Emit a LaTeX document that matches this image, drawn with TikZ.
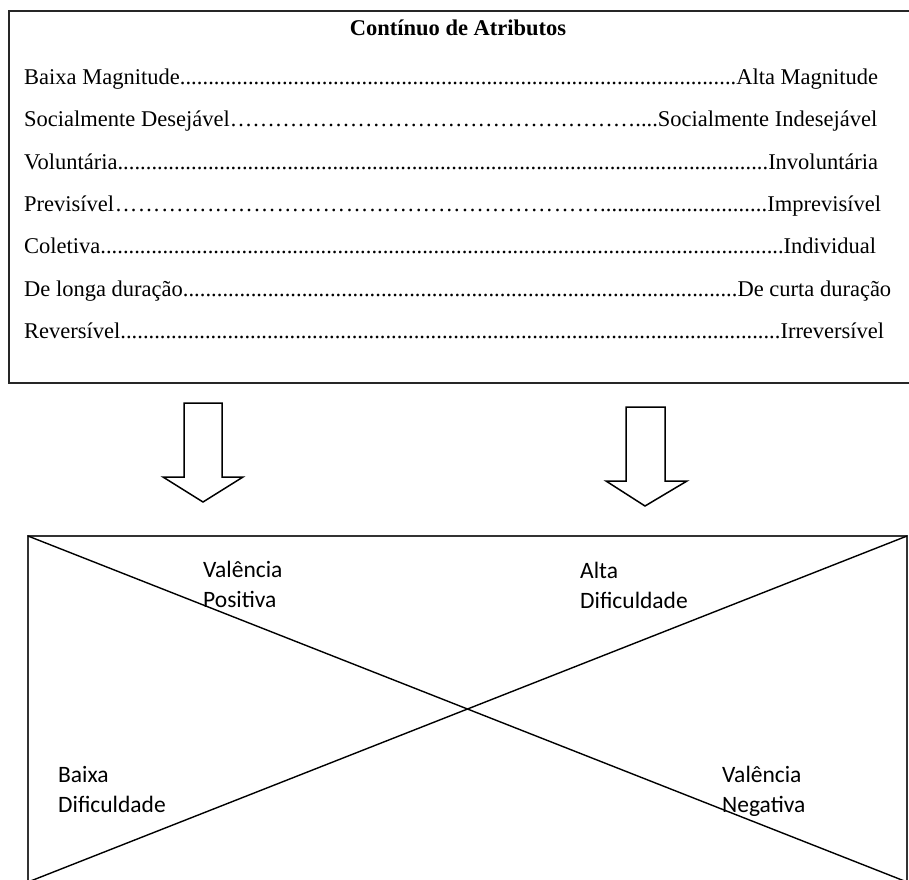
\documentclass[tikz,border=0pt]{standalone}
\usepackage{fontspec}
\setmainfont{Liberation Serif}
\newfontfamily\labelfont{Carlito}
\usetikzlibrary{positioning}

\newcommand{\tightdots}{\xleaders\hbox{.}\hfill}
\newcommand{\widedots}{\xleaders\hbox{…}\hfill}

\tikzset{
	rowtext/.style={anchor=base west,inner sep=0pt,font=\fontsize{22.5}{27}\selectfont},
	quadtext/.style={anchor=base west,inner sep=0pt,align=left,font=\labelfont\fontsize{23.5}{29.5}\selectfont},
	hollow/.style={draw,line width=1.5pt,fill=white,line join=miter}
}

\begin{document}
\begin{tikzpicture}[x=1pt,y=-1pt]
	\useasboundingbox (0,0) rectangle (909,879);

	\draw[line width=2.2pt,draw=black!85] (912,11) -- (9,11) -- (9,383) -- (912,383);
	\node [rowtext,anchor=base] (title) at (458,35) {\bfseries Contínuo de Atributos};

	\node [rowtext] (magnitude) at (24,84) {\makebox[854pt]{Baixa Magnitude\tightdots Alta Magnitude}};
	\node [rowtext] (desejavel) at (24,126) {\makebox[853pt]{Socialmente Desejável\widedots....Socialmente Indesejável}};
	\node [rowtext] (voluntaria) at (24,169) {\makebox[854pt]{Voluntária\tightdots Involuntária}};
	\node [rowtext] (previsivel) at (24,211) {\makebox[857pt]{Previsível\xleaders\hbox{…}\hskip 0pt plus 2.9fill\xleaders\hbox{.}\hskip 0pt plus 1fill Imprevisível}};
	\node [rowtext] (coletiva) at (24,253) {\makebox[852pt]{Coletiva\tightdots Individual}};
	\node [rowtext] (duracao) at (24,296) {\makebox[867pt]{De longa duração\tightdots De curta duração}};
	\node [rowtext] (reversivel) at (24,338) {\makebox[860pt]{Reversível\tightdots Irreversível}};

	\draw[hollow] (184,403) -- (222,403) -- (222,477) -- (243,477) -- (203,502) -- (163,477) -- (184,477) -- cycle;
	\draw[hollow] (626,407) -- (665,407) -- (665,481) -- (687,481) -- (645,506) -- (606,481) -- (626,481) -- cycle;

	\coordinate (nw) at (28,536);
	\coordinate (ne) at (907,536);
	\coordinate (sw) at (28,882);
	\coordinate (se) at (907,882);
	\draw[line width=1.8pt,draw=black!80] (sw) -- (nw) -- (ne) -- (se) -- cycle;
	\draw[line width=1.4pt] (nw) -- (se);
	\draw[line width=1.4pt] (ne) -- (sw);

	\node [quadtext] (positiva) at (203,607) {Valência\\Positiva};
	\node [quadtext] (alta) at (580,608) {Alta\\Dificuldade};
	\node [quadtext] (baixa) at (58,812) {Baixa\\Dificuldade};
	\node [quadtext] (negativa) at (722,812) {Valência\\Negativa};
\end{tikzpicture}
\end{document}
